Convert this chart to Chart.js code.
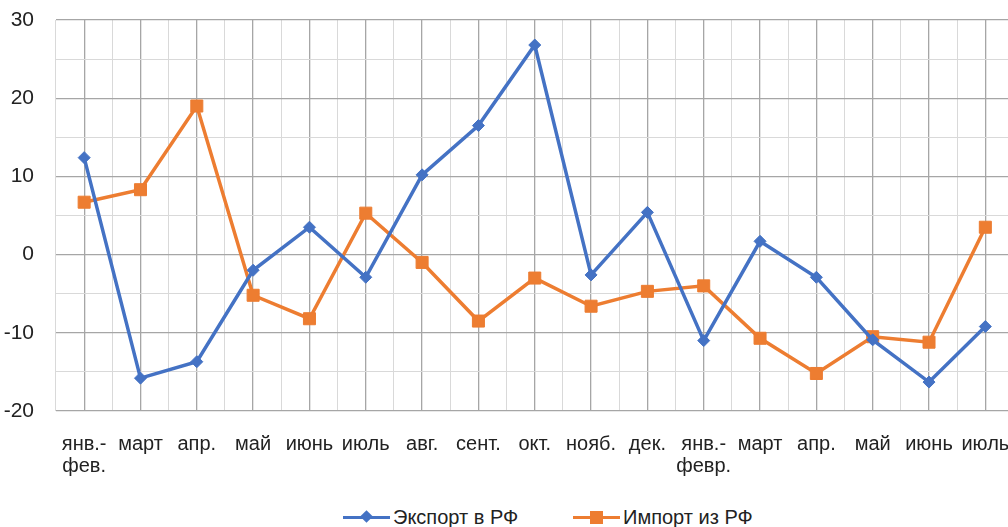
<!DOCTYPE html>
<html>
<head>
<meta charset="utf-8">
<script src="https://cdn.jsdelivr.net/npm/chart.js@4/dist/chart.umd.min.js"></script>
<style>
  html, body { margin: 0; padding: 0; background: #fff; }
  body { width: 1008px; height: 527px; overflow: hidden; position: relative; }
  #wrap { position: absolute; left: 0; top: 0; width: 1023px; height: 480px; }
  #legend { position: absolute; left: 0; top: 505px; width: 1008px; height: 24px;
    font-family: "Liberation Sans", Arial, sans-serif;
    font-size: 20px; color: #222; }
  .item { position: absolute; top: 0; height: 24px; line-height: 24px; white-space: nowrap; }
  .line { position: absolute; top: 11px; left: 0; width: 47px; height: 3px; }
  .mark { position: absolute; }
  .txt { position: absolute; left: 50px; top: 0; }
</style>
</head>
<body>
<div id="wrap"><canvas id="chart" width="1023" height="480"></canvas></div>
<div id="legend"></div>
<script>
// ==================== DATA =====================
const categories = [
  ["янв.-", "фев."], "март", "апр.", "май", "июнь", "июль", "авг.", "сент.", "окт.",
  "нояб.", "дек.", ["янв.-", "февр."], "март", "апр.", "май", "июнь", "июль"
];
const exportRF = [12.4, -15.8, -13.7, -2.0, 3.5, -2.9, 10.2, 16.5, 26.8, -2.6, 5.4, -11.0, 1.7, -2.9, -10.9, -16.3, -9.2];
const importRF = [6.7, 8.3, 19.0, -5.2, -8.2, 5.3, -1.0, -8.5, -3.0, -6.6, -4.7, -4.0, -10.7, -15.2, -10.5, -11.2, 3.5];
const seriesNames = ["Экспорт в РФ", "Импорт из РФ"];
const yTicks = [-20, -10, 0, 10, 20, 30];

const BLUE = "#4472C4";
const ORANGE = "#ED7D31";
const DARK_GRID = "#a6a6a6";
const LIGHT_GRID = "#d9d9d9";
const FONT = "'Liberation Sans', Arial, sans-serif";

// no label overhang padding: plot area is set by layout padding only
function noPad(s) {
  s.paddingTop = 0;
  s.paddingBottom = 0;
  s.paddingLeft = 0;
  s.paddingRight = 0;
}

// ============== CHART ===============
const ctx = document.getElementById("chart").getContext("2d");
new Chart(ctx, {
  type: "line",
  data: {
    labels: categories,
    datasets: [
      {
        label: seriesNames[0],
        data: exportRF,
        borderColor: BLUE,
        backgroundColor: BLUE,
        borderWidth: 3.5,
        pointStyle: "rectRot",
        pointRadius: 6,
        pointBorderWidth: 1,
        tension: 0,
      },
      {
        label: seriesNames[1],
        data: importRF,
        borderColor: ORANGE,
        backgroundColor: ORANGE,
        borderWidth: 3.5,
        pointStyle: "rect",
        pointRadius: 8.5,
        pointBorderWidth: 1,
        tension: 0,
      },
    ],
  },
  options: {
    responsive: false,
    animation: false,
    layout: { padding: { left: 0, right: 0, top: 20, bottom: 0 } },
    plugins: {
      legend: { display: false },
      tooltip: { enabled: false },
    },
    scales: {
      x: {
        offset: true,
        grid: { offset: false, color: DARK_GRID, lineWidth: 1.3, drawTicks: false },
        border: { display: false },
        ticks: {
          autoSkip: false,
          maxRotation: 0,
          minRotation: 0,
          padding: 22,
          color: "#222",
          font: { size: 20, family: FONT, lineHeight: 1.1 },
        },
        afterFit: (s) => { s.height = 69; noPad(s); },
      },
      x2: {
        type: "category",
        position: "top",
        offset: true,
        grid: { offset: true, color: LIGHT_GRID, drawTicks: false },
        border: { display: false },
        ticks: { display: false },
        afterFit: (s) => { s.height = 0; noPad(s); },
      },
      y: {
        min: -20,
        max: 30,
        border: { display: false },
        grid: {
          drawTicks: false,
          color: (c) => (c.tick && c.tick.value % 10 === 0 ? DARK_GRID : LIGHT_GRID),
          lineWidth: (c) => (c.tick && c.tick.value % 10 === 0 ? 1.3 : 1),
        },
        ticks: {
          stepSize: 5,
          padding: 22,
          color: "#222",
          font: { size: 21, family: FONT },
          callback: (v) => (yTicks.includes(v) ? v : ""),
        },
        afterFit: (s) => { s.width = 56; noPad(s); },
      },
    },
  },
});

// ============== LEGEND (line + marker) ===============
const legend = document.getElementById("legend");
const legendItems = [
  { name: seriesNames[0], color: BLUE, left: 343, shape: "diamond" },
  { name: seriesNames[1], color: ORANGE, left: 573, shape: "square" },
];
legendItems.forEach((it) => {
  const mark = it.shape === "diamond"
    ? `<span class="mark" style="left:19px;top:7px;width:9px;height:9px;background:${it.color};transform:rotate(45deg)"></span>`
    : `<span class="mark" style="left:17px;top:6px;width:13px;height:13px;background:${it.color}"></span>`;
  legend.innerHTML += `
    <div class="item" style="left:${it.left}px">
      <span class="line" style="background:${it.color}"></span>
      ${mark}
      <span class="txt">${it.name}</span>
    </div>`;
});
</script>
</body>
</html>
